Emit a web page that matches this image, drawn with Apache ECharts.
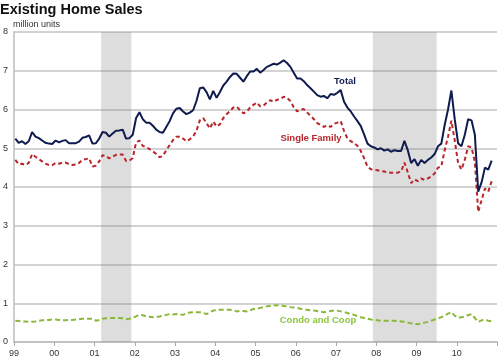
<!DOCTYPE html>
<html>
<head>
<meta charset="utf-8">
<script src="https://cdn.jsdelivr.net/npm/echarts@6/dist/echarts.min.js"></script>
<style>
html,body{margin:0;padding:0;background:#fff;}
#c{width:500px;height:359px;}
</style>
</head>
<body>
<div id="c"></div>
<script>
// Monthly data, Jan 1999 .. Nov 2010 (million units, SAAR)
const startYear = 1999;
const yearTickLabels = ['99','00','01','02','03','04','05','06','07','08','09','10'];
const recessions = [[2001 + 2/12, 2001 + 11/12], [2007 + 11/12, 2009 + 6/12]];

const total = [
  5.25,5.14,5.18,5.11,5.18,5.42,5.30,5.26,5.20,5.14,5.12,5.11,
  5.20,5.15,5.19,5.21,5.13,5.13,5.13,5.17,5.27,5.29,5.33,5.12,
  5.13,5.25,5.42,5.40,5.30,5.38,5.45,5.46,5.48,5.25,5.26,5.35,
  5.78,5.93,5.75,5.66,5.66,5.58,5.48,5.42,5.40,5.55,5.70,5.90,
  6.02,6.04,5.95,5.88,5.92,5.98,6.22,6.55,6.57,6.45,6.26,6.48,
  6.30,6.45,6.62,6.72,6.84,6.93,6.92,6.82,6.72,6.86,6.98,6.98,
  7.05,6.95,7.02,7.10,7.14,7.18,7.16,7.21,7.27,7.20,7.10,6.95,
  6.80,6.80,6.73,6.63,6.55,6.46,6.37,6.33,6.35,6.29,6.40,6.38,
  6.43,6.50,6.20,6.05,5.95,5.82,5.70,5.57,5.35,5.12,5.05,5.02,
  4.97,5.00,4.94,4.97,4.91,4.95,4.93,4.93,5.19,4.95,4.62,4.72,
  4.55,4.70,4.62,4.70,4.76,4.85,5.05,5.12,5.60,6.00,6.49,5.75,
  5.13,5.05,5.35,5.75,5.72,5.35,3.88,4.12,4.50,4.45,4.68
];
const singleFamily = [
  4.70,4.59,4.60,4.57,4.62,4.85,4.78,4.72,4.66,4.60,4.57,4.56,
  4.62,4.60,4.63,4.63,4.59,4.57,4.58,4.62,4.70,4.72,4.74,4.53,
  4.55,4.66,4.82,4.80,4.74,4.78,4.83,4.84,4.84,4.67,4.68,4.75,
  5.15,5.20,5.06,5.03,4.98,4.92,4.85,4.77,4.80,4.95,5.08,5.21,
  5.30,5.30,5.25,5.18,5.23,5.30,5.45,5.72,5.78,5.65,5.51,5.69,
  5.56,5.62,5.78,5.88,5.96,6.05,6.07,5.98,5.90,5.95,6.05,6.12,
  6.18,6.08,6.10,6.18,6.24,6.20,6.25,6.27,6.33,6.30,6.22,6.06,
  5.95,6.00,6.01,5.92,5.84,5.75,5.65,5.60,5.55,5.59,5.55,5.63,
  5.66,5.70,5.45,5.25,5.18,5.14,5.06,4.93,4.74,4.52,4.46,4.44,
  4.43,4.41,4.40,4.38,4.37,4.37,4.37,4.40,4.63,4.38,4.10,4.20,
  4.15,4.22,4.18,4.22,4.27,4.35,4.50,4.53,4.95,5.30,5.71,5.20,
  4.62,4.45,4.70,5.05,5.02,4.65,3.36,3.66,3.96,3.88,4.15
];
const condoCoop = [
  0.55,0.54,0.53,0.53,0.52,0.52,0.53,0.55,0.56,0.56,0.57,0.58,
  0.58,0.57,0.56,0.56,0.57,0.57,0.58,0.59,0.60,0.60,0.60,0.60,
  0.55,0.57,0.60,0.61,0.62,0.62,0.62,0.62,0.61,0.59,0.60,0.63,
  0.66,0.71,0.69,0.66,0.65,0.64,0.65,0.66,0.68,0.70,0.72,0.71,
  0.72,0.71,0.70,0.74,0.76,0.77,0.77,0.77,0.75,0.72,0.77,0.81,
  0.82,0.83,0.83,0.83,0.83,0.82,0.79,0.80,0.80,0.79,0.82,0.85,
  0.86,0.88,0.90,0.92,0.93,0.94,0.95,0.95,0.93,0.92,0.90,0.89,
  0.88,0.86,0.84,0.83,0.82,0.81,0.80,0.78,0.77,0.78,0.80,0.81,
  0.81,0.79,0.77,0.75,0.72,0.70,0.67,0.64,0.62,0.60,0.58,0.57,
  0.56,0.55,0.55,0.55,0.55,0.55,0.54,0.53,0.52,0.50,0.48,0.47,
  0.46,0.48,0.50,0.52,0.55,0.58,0.61,0.64,0.68,0.73,0.77,0.68,
  0.62,0.64,0.66,0.69,0.72,0.62,0.52,0.56,0.58,0.55,0.53
];

function toPoints(arr){
  return arr.map((v,i)=>[startYear + (i + 0.4)/12, v]);
}

const chart = echarts.init(document.getElementById('c'), null, {renderer:'canvas'});
const FONT = 'Liberation Sans, Arial, sans-serif';
chart.setOption({
  animation:false,
  backgroundColor:'#fff',
  grid:{left:12, top:32, width:488.5, height:310, containLabel:false},
  xAxis:{
    type:'value', min:1999, max:2011, interval:1,
    axisLine:{show:true, lineStyle:{color:'#bdbdbd', width:1.5}},
    axisTick:{show:true, length:4, lineStyle:{color:'#aaaaaa'}},
    splitLine:{show:false},
    axisLabel:{
      color:'#333', fontSize:9, fontFamily:FONT, margin:7,
      formatter:(v)=>{const i=Math.round(v)-startYear; return yearTickLabels[i]||'';}
    }
  },
  yAxis:{
    type:'value', min:0, max:8, interval:1,
    axisLine:{show:true, lineStyle:{color:'#bdbdbd', width:1.5}},
    axisTick:{show:false},
    splitLine:{show:true, lineStyle:{color:'#c4c4c4', width:1.5}},
    axisLabel:{color:'#333', fontSize:9, fontFamily:FONT, margin:6}
  },
  series:[
    {
      name:'Total', type:'line', data:toPoints(total), showSymbol:false,
      lineStyle:{color:'#0f1a4e', width:2}, z:5,
      markArea:{silent:true, itemStyle:{color:'rgba(120,120,120,0.25)'},
        data:recessions.map(r=>[{xAxis:r[0]},{xAxis:r[1]}])}
    },
    {
      name:'Single Family', type:'line', data:toPoints(singleFamily), showSymbol:false,
      lineStyle:{color:'#b8252b', width:2, type:[4,3]}, z:4
    },
    {
      name:'Condo and Coop', type:'line', data:toPoints(condoCoop), showSymbol:false,
      lineStyle:{color:'#8ab83a', width:2, type:[5,3]}, z:4
    }
  ],
  graphic:[
    {type:'text', left:0, top:2, style:{text:'Existing Home Sales', font:'bold 14.5px '+FONT, fill:'#111'}},
    {type:'text', left:13, top:20, style:{text:'million units', font:'9px '+FONT, fill:'#333'}},
    {type:'text', x:345, y:81, style:{text:'Total', font:'bold 9.5px '+FONT, fill:'#0f1a4e', align:'center', verticalAlign:'middle'}},
    {type:'text', x:311, y:138, style:{text:'Single Family', font:'bold 9.5px '+FONT, fill:'#b8252b', align:'center', verticalAlign:'middle'}},
    {type:'text', x:318, y:320, style:{text:'Condo and Coop', font:'bold 9.5px '+FONT, fill:'#8dc63f', align:'center', verticalAlign:'middle'}}
  ]
});
</script>
</body>
</html>
